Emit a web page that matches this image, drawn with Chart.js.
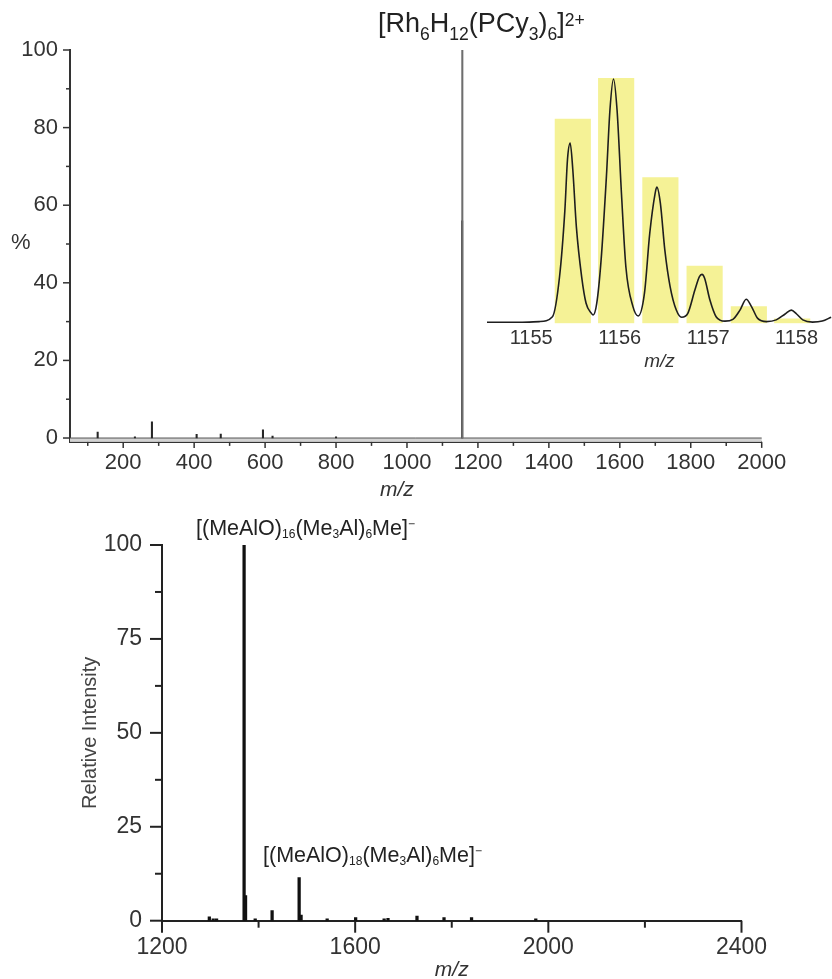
<!DOCTYPE html>
<html>
<head>
<meta charset="utf-8">
<script src="https://cdn.jsdelivr.net/npm/chart.js@4.4.1/dist/chart.umd.min.js"></script>
<style>
  html, body { margin:0; padding:0; background:#fff; overflow:hidden; }
  #page { position:relative; width:832px; height:979px; overflow:hidden;
          font-family:"Liberation Sans", Arial, sans-serif; color:#222; }
  canvas { position:absolute; }
  .txt { position:absolute; line-height:1; white-space:nowrap; }
  .txt sub, .txt sup { vertical-align:baseline; position:relative; line-height:0; }
  #f1 { left:378px; top:10px; font-size:27px; }
  #f1 sub { font-size:0.65em; top:0.45em; }
  #f1 sup { font-size:0.65em; top:-0.35em; }
  .mao { font-size:21.5px; }
  .mao sub { font-size:0.56em; top:0.25em; }
  .mao sup { font-size:0.56em; top:-0.6em; }
  #f2 { left:196px; top:518px; }
  #f3 { left:263px; top:845px; }
  #pct { left:11px; top:231px; font-size:22px; color:#333; }
  #mz1 { left:380px; top:478px; font-size:21px; font-style:italic; color:#333; }
</style>
</head>
<body>
<div id="page">
  <canvas id="topChart" width="832" height="505" style="left:0;top:0"></canvas>
  <canvas id="insetChart" width="352" height="330" style="left:480px;top:60px"></canvas>
  <canvas id="botChart" width="832" height="490" style="left:0;top:500px"></canvas>

  <div class="txt" id="f1">[Rh<sub>6</sub>H<sub>12</sub>(PCy<sub>3</sub>)<sub>6</sub>]<sup>2+</sup></div>
  <div class="txt" id="pct">%</div>
  <div class="txt" id="mz1">m/z</div>
  <div class="txt mao" id="f2">[(MeAlO)<sub>16</sub>(Me<sub>3</sub>Al)<sub>6</sub>Me]<sup>&minus;</sup></div>
  <div class="txt mao" id="f3">[(MeAlO)<sub>18</sub>(Me<sub>3</sub>Al)<sub>6</sub>Me]<sup>&minus;</sup></div>
</div>
<script>
// top spectrum (m/z vs %)
const topMz  = [128, 233, 281, 407, 475, 594, 621, 800, 1155.5, 1156];
const topPct = [1.5, 0.3, 4.2, 0.95, 1.0, 2.1, 0.5, 0.3, 56, 100];
const topXTicks = [200, 400, 600, 800, 1000, 1200, 1400, 1600, 1800, 2000];
const topXMinor = [100, 300, 500, 700, 900, 1100, 1300, 1500, 1700, 1900];
const topYTicks = [0, 20, 40, 60, 80, 100];
const topYMinor = [10, 30, 50, 70, 90];

// inset: calculated isotope pattern (bars) and measured profile (line)
const calcMz  = [1155.47, 1155.96, 1156.46, 1156.96, 1157.46, 1157.95];
const calcPct = [83.4, 100, 59.5, 23.4, 6.8, 1.8];
const obsMz  = [1154.49, 1154.87, 1155.09, 1155.24, 1155.32, 1155.38, 1155.41, 1155.44, 1155.47, 1155.51,
                1155.57, 1155.62, 1155.68, 1155.70, 1155.74, 1155.79, 1155.85, 1155.89, 1155.93, 1155.97,
                1156.02, 1156.07, 1156.15, 1156.21, 1156.28, 1156.34, 1156.40, 1156.42, 1156.46, 1156.51,
                1156.57, 1156.64, 1156.70, 1156.77, 1156.85, 1156.90, 1156.93, 1156.96, 1157.02, 1157.09,
                1157.19, 1157.28, 1157.36, 1157.43, 1157.49, 1157.56, 1157.66, 1157.77, 1157.87, 1157.94,
                1158.00, 1158.07, 1158.18, 1158.29, 1158.39];
const obsPct = [0.4, 0.4, 0.7, 2.7, 19, 46, 67, 73.6, 62.7, 39.5,
                19, 8.2, 4.1, 3.4, 8, 25.9, 60, 87.2, 99.8, 87.2,
                53, 23, 6.8, 3, 12.3, 36.8, 53, 55.6, 49, 30,
                15, 5.4, 2.5, 4.1, 13.6, 19, 20, 18.4, 9.5, 2.7,
                0.9, 1.6, 5.4, 9.8, 6.8, 2, 0.7, 1.4, 3.8, 5.4,
                3.8, 1.4, 0.5, 0.9, 2.5];
const insetXTicks = [1155, 1156, 1157, 1158];

// bottom spectrum (m/z vs relative intensity)
const botMz  = [1298, 1306, 1313, 1370, 1373, 1393, 1428, 1484, 1488, 1542, 1601, 1660, 1668, 1728, 1784, 1841, 1974];
const botInt = [1.0, 0.5, 0.5, 100, 6.7, 0.5, 2.7, 11.5, 1.5, 0.5, 0.8, 0.5, 0.6, 1.2, 0.8, 0.8, 0.5];
const botXTicks = [1200, 1600, 2000, 2400];
const botXMinor = [1400, 1800, 2200];
const botYTicks = [0, 25, 50, 75, 100];
const botYMinor = [12.5, 37.5, 62.5, 87.5];

Chart.defaults.font.family = '"Liberation Sans", Arial, sans-serif';
Chart.defaults.color = '#333';

const pts = (xs, ys) => xs.map((x, i) => ({ x, y: ys[i] }));
const fixTicks = list => s => { s.ticks = list.map(v => ({ value: v })); };

// short major/minor tick marks drawn outside the axes
const tickMarks = {
  id: 'tickMarks',
  afterDraw(chart, args, opts) {
    const ctx = chart.ctx, area = chart.chartArea;
    (opts.axes || []).forEach(a => {
      const s = chart.scales[a.id];
      ctx.save();
      ctx.strokeStyle = a.color;
      ctx.lineWidth = a.width;
      const draw = (vals, len) => vals.forEach(v => {
        const p = s.getPixelForValue(v);
        ctx.beginPath();
        if (s.isHorizontal()) { ctx.moveTo(p, area.bottom); ctx.lineTo(p, area.bottom + len); }
        else { ctx.moveTo(area.left, p); ctx.lineTo(area.left - len, p); }
        ctx.stroke();
      });
      draw(a.major, a.majorLen);
      draw(a.minor, a.minorLen);
      ctx.restore();
    });
  }
};

// grey band between the zero line and the axis of the top spectrum
const baseBand = {
  id: 'baseBand',
  beforeDatasetsDraw(chart) {
    const ctx = chart.ctx, a = chart.chartArea, y = chart.scales.y;
    const p0 = y.getPixelForValue(0), p1 = y.getPixelForValue(-1);
    ctx.save();
    ctx.fillStyle = '#d2d2d2';
    ctx.fillRect(a.left, p0, a.right - a.left, p1 - p0);
    ctx.strokeStyle = '#555';
    ctx.lineWidth = 1;
    ctx.beginPath(); ctx.moveTo(a.left, p0); ctx.lineTo(a.right, p0); ctx.stroke();
    ctx.restore();
  }
};

const base = {
  responsive: false, animation: false, events: [],
};

new Chart(document.getElementById('topChart'), {
  type: 'bar',
  data: { datasets: [{
    data: pts(topMz, topPct),
    barThickness: 1.4,
    backgroundColor: c => (c.raw && c.raw.y > 80) ? '#6e6e6e' : '#262626'
  }]},
  options: {
    ...base,
    layout: { padding: { left: 0, top: 50, right: 70.3, bottom: 0 } },
    plugins: {
      legend: { display: false }, tooltip: { enabled: false },
      tickMarks: { axes: [
        { id: 'x', major: topXTicks, minor: topXMinor, majorLen: 6, minorLen: 4, color: '#333', width: 1.5 },
        { id: 'y', major: topYTicks, minor: topYMinor, majorLen: 7, minorLen: 4, color: '#333', width: 1.5 }
      ]}
    },
    scales: {
      x: { type: 'linear', min: 50, max: 2000, offset: false,
           grid: { display: false, drawTicks: false }, border: { color: '#333', width: 2 },
           ticks: { font: { size: 22 }, padding: 8, maxRotation: 0, autoSkip: false, callback: v => v },
           afterBuildTicks: fixTicks(topXTicks), afterFit: s => { s.height = 63.1; } },
      y: { min: -1, max: 100,
           grid: { display: false, drawTicks: false }, border: { color: '#333', width: 2 },
           ticks: { font: { size: 22 }, padding: 12, callback: v => v },
           afterBuildTicks: fixTicks(topYTicks), afterFit: s => { s.width = 70; } }
    }
  },
  plugins: [tickMarks, baseBand]
});

new Chart(document.getElementById('insetChart'), {
  type: 'bar',
  data: { datasets: [
    { type: 'line', data: pts(obsMz, obsPct), borderColor: '#1e1e1e', borderWidth: 1.6,
      pointRadius: 0, cubicInterpolationMode: 'monotone', order: 0 },
    { data: pts(calcMz, calcPct), backgroundColor: '#f5f296', barThickness: 35.5, order: 1 }
  ]},
  options: {
    ...base,
    layout: { padding: { left: 7, top: 16, right: 0, bottom: 16.8 } },
    plugins: { legend: { display: false }, tooltip: { enabled: false } },
    scales: {
      x: { type: 'linear', min: 1154.5, max: 1158.4, offset: false,
           grid: { display: false, drawTicks: false }, border: { display: false },
           ticks: { font: { size: 20 }, padding: 2.7, maxRotation: 0, autoSkip: false, callback: v => v },
           title: { display: true, text: 'm/z', font: { size: 19, style: 'italic' }, padding: 0 },
           afterBuildTicks: fixTicks(insetXTicks), afterFit: s => { s.height = 49.9; } },
      y: { display: false, min: 0, max: 101 }
    }
  }
});

new Chart(document.getElementById('botChart'), {
  type: 'bar',
  data: { datasets: [{ data: pts(botMz, botInt), barThickness: 2.6, backgroundColor: '#111' }] },
  options: {
    ...base,
    layout: { padding: { left: 0, top: 45, right: 90.5, bottom: 6.8 } },
    plugins: {
      legend: { display: false }, tooltip: { enabled: false },
      tickMarks: { axes: [
        { id: 'x', major: botXTicks, minor: botXMinor, majorLen: 12, minorLen: 7, color: '#222', width: 2 },
        { id: 'y', major: botYTicks, minor: botYMinor, majorLen: 12, minorLen: 7, color: '#222', width: 2 }
      ]}
    },
    scales: {
      x: { type: 'linear', min: 1200, max: 2400, offset: false,
           grid: { display: false, drawTicks: false }, border: { color: '#222', width: 2 },
           ticks: { font: { size: 23 }, padding: 13.5, maxRotation: 0, autoSkip: false, callback: v => v },
           title: { display: true, text: 'm/z', font: { size: 21, style: 'italic' }, padding: 0 },
           afterBuildTicks: fixTicks(botXTicks), afterFit: s => { s.height = 62.5; } },
      y: { min: 0, max: 100,
           grid: { display: false, drawTicks: false }, border: { color: '#222', width: 2 },
           ticks: { font: { size: 23 }, padding: 20, callback: v => v },
           title: { display: true, text: 'Relative Intensity', color: '#444', font: { size: 20 }, padding: { top: 78, bottom: 0 } },
           afterBuildTicks: fixTicks(botYTicks), afterFit: s => { s.width = 162; } }
    }
  },
  plugins: [tickMarks]
});
</script>
</body>
</html>
